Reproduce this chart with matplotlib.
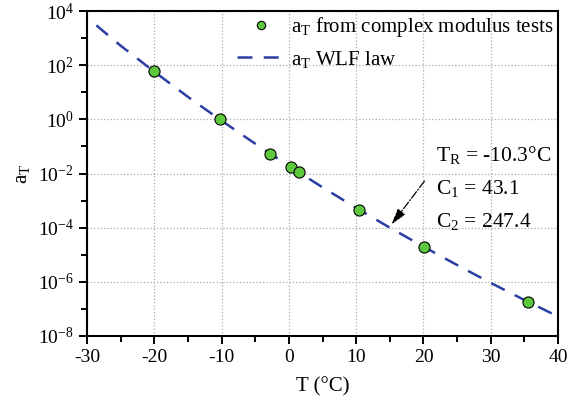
import matplotlib
matplotlib.use("Agg")
import matplotlib.pyplot as plt

plt.rcParams["font.family"] = ["Liberation Serif", "DejaVu Serif"]
plt.rcParams["mathtext.fontset"] = "custom"
plt.rcParams["mathtext.rm"] = "Liberation Serif"
plt.rcParams["mathtext.it"] = "Liberation Serif:italic"
plt.rcParams["axes.unicode_minus"] = False

# measured shift factors
test_T = [-20.1, -10.3, -2.8, 0.3, 1.5, 10.4, 20.1, 35.6]
test_log_aT = [1.78, 0.0, -1.27, -1.75, -1.95, -3.34, -4.72, -6.76]

# WLF law curve
wlf_T = [-28.6, -25, -20, -15, -10, -5, 0, 5, 10, 15, 20, 25, 30, 35, 40]
wlf_log_aT = [3.47, 2.72, 1.76, 0.83, -0.05, -0.90, -1.72, -2.51, -3.27,
              -4.00, -4.70, -5.38, -6.04, -6.67, -7.28]

x_ticks = [-30, -20, -10, 0, 10, 20, 30, 40]
y_exps = [-8, -6, -4, -2, 0, 2, 4]

fig = plt.figure(figsize=(5.7, 4.08), dpi=100)
ax = fig.add_axes([0.1526, 0.1765, 0.8264, 0.7965])

ax.plot(wlf_T, [10 ** v for v in wlf_log_aT], color="#2b3fa3", lw=1.8,
        dashes=(6, 4.5), label=r"a$_\mathregular{T}$ WLF law", zorder=2)
ax.plot(test_T, [10 ** v for v in test_log_aT], "o", color="#5cc83c",
        mec="black", mew=0.8, ms=8, label=r"a$_\mathregular{T}$ from complex modulus tests",
        zorder=3)

ax.set_yscale("log")
ax.set_xlim(-30, 40)
ax.set_ylim(1e-8, 1e4)
ax.set_xticks(x_ticks)
ax.set_xticks(range(-25, 40, 10), minor=True)
ax.set_yticks([10.0 ** e for e in y_exps])
ax.set_yticklabels([r"$\mathregular{10^{%d}}$" % e for e in y_exps])
ax.set_yticks([10.0 ** e for e in range(-7, 4, 2)], minor=True)
ax.yaxis.set_minor_formatter(plt.NullFormatter())
ax.tick_params(which="both", direction="out", labelsize=14, width=1.4, top=False, right=False)
ax.tick_params(which="major", length=6)
ax.tick_params(which="minor", length=4)
for s in ax.spines.values():
    s.set_linewidth(1.5)

ax.grid(True, which="major", ls=":", color="#aaaaaa", lw=0.9)
ax.set_xlabel("T (°C)", fontsize=15, labelpad=8)
ax.set_ylabel(r"a$_\mathregular{T}$", fontsize=15)

handles, labels = ax.get_legend_handles_labels()
leg = ax.legend(handles[::-1], labels[::-1], loc="upper right", frameon=False,
                fontsize=15, handlelength=2.3, handletextpad=0.3, borderaxespad=0.0,
                labelspacing=0.45, markerscale=0.75, borderpad=0.2)

ax.annotate("", xy=(15, 10 ** -3.97), xytext=(20.4, 10 ** -2.2),
            arrowprops=dict(arrowstyle="-|>,head_length=0.7,head_width=0.2",
                            ls="-.", color="black", lw=0.9, mutation_scale=14))
ax.text(21.9, 10 ** -1.31, r"T$_\mathregular{R}$ = -10.3°C", fontsize=15.5, va="center")
ax.text(21.9, 10 ** -2.55, r"C$_\mathregular{1}$ = 43.1", fontsize=15.5, va="center")
ax.text(21.9, 10 ** -3.77, r"C$_\mathregular{2}$ = 247.4", fontsize=15.5, va="center")

fig.savefig("out.png", dpi=100)
